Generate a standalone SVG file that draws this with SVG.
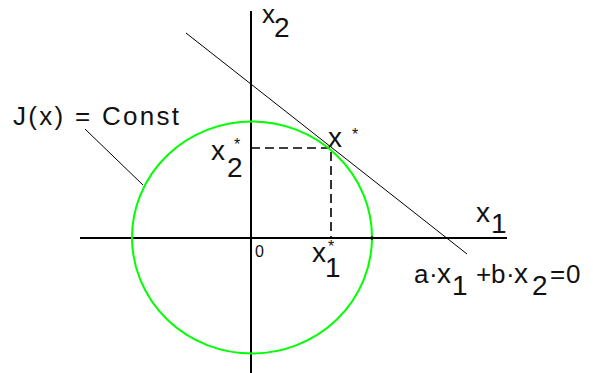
<svg xmlns="http://www.w3.org/2000/svg" width="593" height="373" viewBox="0 0 593 373">
<style>
.t{font-family:"Liberation Sans",Arial,sans-serif;fill:#111;}
.ax{stroke:#000;stroke-width:2;fill:none;}
.thin{stroke:#000;stroke-width:1;fill:none;}
.dash{stroke:#000;stroke-width:1.6;stroke-dasharray:9 5;fill:none;}
</style>
<rect width="593" height="373" fill="#fff"/>
<g id="connectors">
<line class="ax" x1="80" y1="238" x2="507" y2="238"/>
<line class="ax" x1="251" y1="11" x2="251" y2="373"/>
<line class="thin" x1="186" y1="33" x2="467" y2="254"/>
<line class="thin" x1="85" y1="129" x2="143" y2="185"/>
<polyline class="dash" points="251,148 331,148 331,238"/>
</g>
<g id="circle">
<ellipse cx="252" cy="237.5" rx="120" ry="116" fill="none" stroke="#00ff00" stroke-width="2"/>
<circle cx="372" cy="238" r="1.8" fill="#000"/>
</g>
<g id="labels">
<text class="t" x="13" y="125" font-size="26" textLength="166" lengthAdjust="spacing">J(x) = Const</text>
<text class="t" font-size="26"><tspan x="262" y="23">x</tspan><tspan x="274" y="37" font-size="28">2</tspan></text>
<text class="t" font-size="28"><tspan x="211" y="160">x</tspan><tspan x="227" y="177">2</tspan><tspan x="234" y="150" font-size="16">*</tspan></text>
<text class="t" font-size="28"><tspan x="328" y="147">x</tspan><tspan x="352" y="140" font-size="16">*</tspan></text>
<text class="t" font-size="28"><tspan x="312" y="262">x</tspan><tspan x="325" y="277">1</tspan><tspan x="328" y="252" font-size="16">*</tspan></text>
<text class="t" x="255" y="257" font-size="16">0</text>
<text class="t" font-size="28"><tspan x="476" y="222">x</tspan><tspan x="491" y="233">1</tspan></text>
<text class="t" font-size="26"><tspan x="414" y="283">a</tspan><tspan x="429" y="283">·</tspan><tspan x="437" y="283" font-size="28">x</tspan><tspan x="452" y="295" font-size="28">1</tspan><tspan x="476" y="283">+</tspan><tspan x="491" y="283">b</tspan><tspan x="506" y="283">·</tspan><tspan x="514" y="283" font-size="28">x</tspan><tspan x="532" y="295" font-size="28">2</tspan><tspan x="550" y="283">=</tspan><tspan x="566" y="283">0</tspan></text>
</g>
</svg>
